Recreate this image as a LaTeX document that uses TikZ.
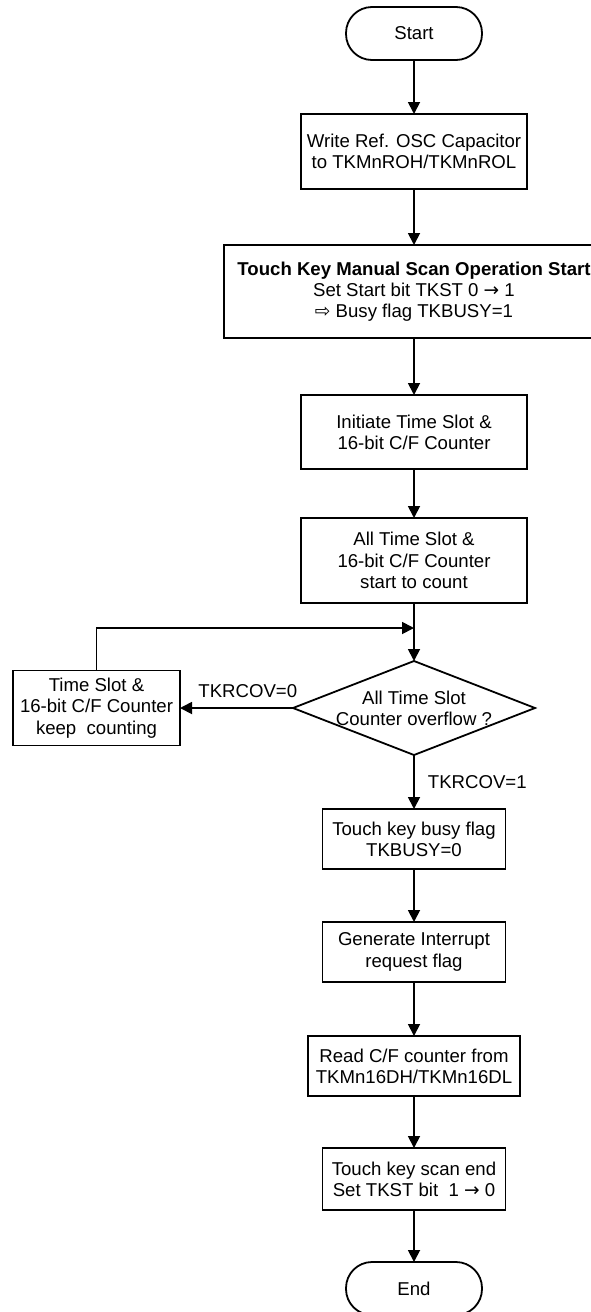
\documentclass[tikz,border=0pt]{standalone}
\usepackage{fontspec}
\setmainfont{Liberation Sans}
\newfontfamily\symfont{DejaVu Sans}
\usepackage{tikz}
\usetikzlibrary{arrows.meta,positioning,shapes.geometric}

\begin{document}
\begin{tikzpicture}[
    x=1pt, y=1pt,
    font=\fontsize{18.6pt}{21.3pt}\selectfont,
    node distance=54pt and 113pt,
    block/.style={draw, line width=1.8pt, inner sep=2pt, outer sep=0pt, minimum width=226pt, minimum height=75pt, align=center},
    term/.style={block, rounded corners=26pt, minimum width=136pt, minimum height=53pt},
    small/.style={block, minimum width=183pt, minimum height=60pt},
    decide/.style={diamond, draw, line width=1.8pt, inner sep=0pt, outer sep=0pt, minimum width=242pt, minimum height=94pt},
    lbl/.style={inner sep=2pt},
    arr/.style={-{Triangle[length=12pt, width=12pt]}, line width=1.8pt}
  ]
    \path[use as bounding box] (0,0) rectangle (591,-1312);

    \node[term] (start) at (414,-33.5) {Start};
    \node[block, below=of start] (wref) {Write Ref. OSC Capacitor\\to TKMnROH/TKMnROL};
    \node[block, below=56pt of wref, minimum width=380pt, minimum height=93pt] (scan) {\textbf{Touch Key Manual Scan Operation Start}\\Set Start bit TKST 0 {\symfont →} 1\\{\symfont ⇨} Busy flag TKBUSY=1};
    \node[block, below=57pt of scan, minimum height=74pt] (init) {Initiate Time Slot \&\\16-bit C/F Counter};
    \node[block, below=49pt of init, minimum height=85pt] (cnt) {All Time Slot \&\\16-bit C/F Counter\\start to count};
    \node[decide, below=58pt of cnt] (dec) {};
    \node[align=center] (dectxt) at (dec) {All Time Slot\\Counter overflow ?};
    \node[block, left=of dec, minimum width=167pt] (keep) {Time Slot \&\\16-bit C/F Counter\\keep~ counting};
    \coordinate[below=25pt of cnt] (join);
    \node[small, below=of dec] (busy) {Touch key busy flag\\TKBUSY=0};
    \node[small, below=53pt of busy] (irq) {Generate Interrupt\\request flag};
    \node[small, below=of irq, minimum width=212pt] (rdcf) {Read C/F counter from\\TKMn16DH/TKMn16DL};
    \node[small, below=52pt of rdcf, minimum height=62pt] (scanend) {Touch key scan end\\Set TKST bit~ 1 {\symfont →} 0};
    \node[term, below=52pt of scanend] (fin) {End};

    \draw[arr] (start) -- (wref);
    \draw[arr] (wref) -- (scan);
    \draw[arr] (scan) -- (init);
    \draw[arr] (init) -- (cnt);
    \draw[arr] (cnt) -- (dec);
    \draw[arr] (dec) -- node[lbl, above=7pt, pos=0.4] {TKRCOV=0} (keep);
    \draw[arr] (keep) |- (join);
    \draw[arr] (dec) -- node[lbl, right=11pt] {TKRCOV=1} (busy);
    \draw[arr] (busy) -- (irq);
    \draw[arr] (irq) -- (rdcf);
    \draw[arr] (rdcf) -- (scanend);
    \draw[arr] (scanend) -- (fin);
  \end{tikzpicture}
\end{document}
